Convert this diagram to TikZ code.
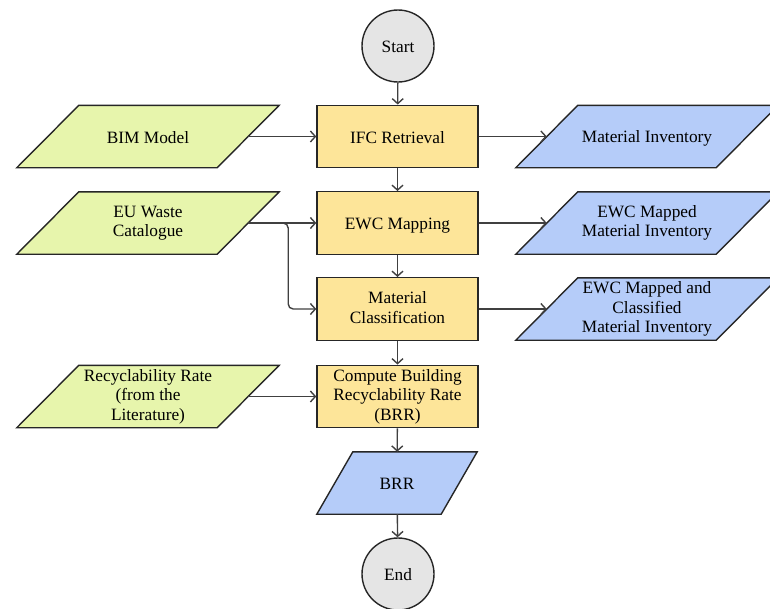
\documentclass[tikz,border=0pt]{standalone}
\usepackage{fontspec}
\setmainfont{Liberation Serif}
\usetikzlibrary{arrows.meta,backgrounds}

\definecolor{termgray}{RGB}{229,229,229}
\definecolor{procyellow}{RGB}{253,229,153}
\definecolor{ingreen}{RGB}{231,245,172}
\definecolor{outblue}{RGB}{181,204,249}

\newcommand{\linestrut}{\rule[-2.9pt]{0pt}{19.4pt}}

\begin{document}
\begin{tikzpicture}[x=1pt,y=1pt,
  every node/.style={font=\fontsize{17.3}{19.4}\selectfont, align=center,
    execute at begin node=\linestrut, execute at end node=\linestrut},
  outline/.style={draw=black!85, line width=1.4pt},
  term/.style={outline, circle, fill=termgray, minimum size=72pt, inner sep=0pt},
  proc/.style={outline, rectangle, fill=procyellow, minimum width=161pt,
    minimum height=62.5pt, inner sep=2pt},
  data/.style={rectangle, minimum width=200pt, minimum height=62pt, inner sep=2pt},
  arr/.style={draw=black!75, line width=1.4pt,
    -{Straight Barb[length=5pt,width=11pt]}}]
  \useasboundingbox (0,0) rectangle (770,-608);

  \node[term] (start) at (398,-46) {Start};
  \node[proc] (ifc) at (397.5,-136.5) {IFC Retrieval};
  \node[proc] (ewc) at (397.5,-223) {EWC Mapping};
  \node[proc] (cls) at (397.5,-309) {Material\\Classification};
  \node[proc] (brr) at (397.5,-396.5) {Compute Building\\Recyclability Rate\\(BRR)};
  \node[data, minimum width=124pt] (rate) at (397,-483) {BRR};
  \node[term] (end) at (398,-574) {End};

  \node[data] (bim) at (148,-136.5) {BIM Model};
  \node[data] (eu) at (148,-223) {EU Waste\\Catalogue};
  \node[data] (lit) at (148,-396.5) {Recyclability Rate\\(from the\\Literature)};

  \node[data] (inv) at (647,-136.5) {Material Inventory};
  \node[data] (ewcinv) at (647,-223) {EWC Mapped\\Material Inventory};
  \node[data] (clsinv) at (647,-309) {EWC Mapped and\\Classified\\Material Inventory};

  % slanted data boxes behind the text
  \begin{scope}[on background layer]
    \foreach \n/\c/\s in {bim/ingreen/31, eu/ingreen/31, lit/ingreen/31,
        inv/outblue/31, ewcinv/outblue/31, clsinv/outblue/31, rate/outblue/18}
      \filldraw[outline, fill=\c, line join=miter]
        ([xshift=-\s pt]\n.south west) -- ([xshift=-\s pt]\n.south east)
        -- ([xshift=\s pt]\n.north east) -- ([xshift=\s pt]\n.north west) -- cycle;
  \end{scope}

  \draw[arr] (start) -- (ifc);
  \draw[arr] (ifc) -- (ewc);
  \draw[arr] (ewc) -- (cls);
  \draw[arr] (cls) -- (brr);
  \draw[arr] (brr) -- (rate);
  \draw[arr] (rate) -- (end);

  \draw[arr] (bim) -- (ifc);
  \draw[arr] (eu) -- (ewc);
  \draw[arr, rounded corners=5pt] (eu.east) -- ++(40,0) |- (cls.west);
  \draw[arr] (lit) -- (brr);

  \draw[arr] (ifc) -- (inv);
  \draw[arr] (ewc) -- (ewcinv);
  \draw[arr] (cls) -- (clsinv);
\end{tikzpicture}
\end{document}
